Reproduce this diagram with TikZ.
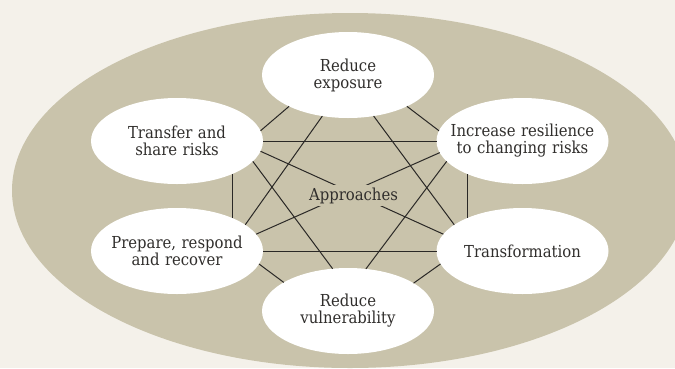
\documentclass[tikz,border=0pt]{standalone}
\usepackage{fontspec}
\setmainfont{DejaVu Serif Condensed}
\usetikzlibrary{shapes.geometric}
\definecolor{paper}{HTML}{F4F1EA}
\definecolor{sand}{HTML}{C9C3AB}
\definecolor{ink}{HTML}{302E2C}
\definecolor{wire}{HTML}{2A2826}
\begin{document}
\begin{tikzpicture}[x=1pt,y=-1pt,
  approach/.style={ellipse, fill=white, minimum width=172pt, minimum height=86pt,
    inner xsep=-17pt, inner ysep=0pt, outer sep=0pt, text width=150pt,
    align=center, text=ink, font=\fontsize{16.5}{17}\selectfont},
  link/.style={draw=wire, line width=1pt},
  hub/.style={rectangle, fill=sand, inner xsep=2pt, inner ysep=3pt, text=ink,
    font=\fontsize{16.5}{17}\selectfont}]
  % page and the surrounding field
  \fill[paper] (0,0) rectangle (675,368);
  \useasboundingbox (0,0) rectangle (675,368);
  \begin{scope}
    \clip (0,0) rectangle (675,368);
    \fill[sand] (350,190.5) ellipse [x radius=338, y radius=177.5];
  \end{scope}

  % the six approaches
  \node[approach] (exp) at (348,75)    {Reduce\\exposure};
  \node[approach] (tra) at (177,141)   {Transfer and\\share risks};
  \node[approach] (res) at (522.5,141) {Increase resilience\\to changing risks};
  \node[approach] (pre) at (177,251)   {Prepare, respond\\and recover};
  \node[approach] (trf) at (522.5,251) {Transformation};
  \node[approach] (vul) at (348,311)   {Reduce\\vulnerability};

  % links between approaches
  \draw[link] (exp.-152) -- (tra.7);
  \draw[link] (exp.-28)  -- (res.173);
  \draw[link] (tra.0)    -- (res.180);
  \draw[link] (pre.0)    -- (trf.180);
  \draw[link] (tra.-31)  -- (pre.31);
  \draw[link] (res.-149) -- (trf.149);
  \draw[link] (exp.-122) -- (pre.21);
  \draw[link] (exp.-58)  -- (trf.159);
  \draw[link] (tra.-15)  -- (vul.110);
  \draw[link] (res.-165) -- (vul.67);
  \draw[link] (tra.-7)   -- (trf.168);
  \draw[link] (res.188)  -- (pre.12);
  \draw[link] (pre.-9)   -- (vul.156);
  \draw[link] (trf.189)  -- (vul.23);

  % central label
  \node[hub] (hub) at (353.5,195.5) {Approaches};
\end{tikzpicture}
\end{document}
